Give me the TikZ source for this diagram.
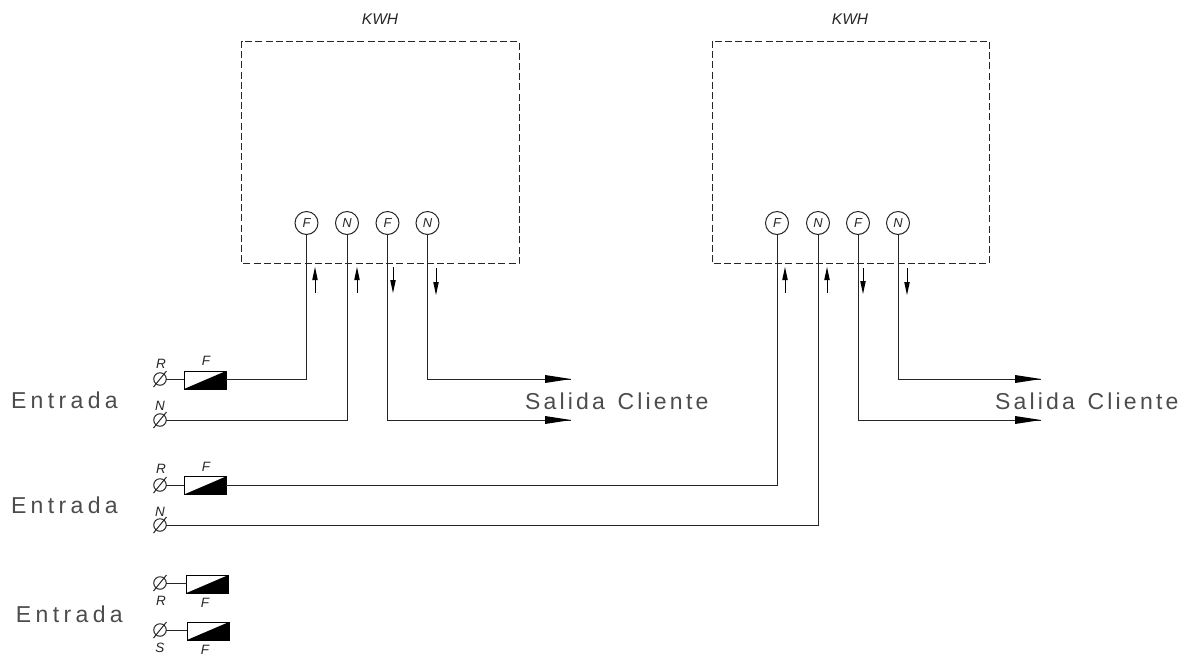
\documentclass[tikz,border=0pt]{standalone}
\usepackage{fontspec}
\setmainfont{Liberation Sans}
\newfontfamily\spacedA[LetterSpace=19]{Liberation Sans}
\newfontfamily\spacedB[LetterSpace=14,WordSpace=1.3]{Liberation Sans}
\usetikzlibrary{calc}
\tikzset{
  x=1pt,y=-1pt,
  every node/.style={inner sep=0pt,outer sep=0pt},
  wire/.style={draw=black!85,line width=1pt},
  dashbox/.style={draw=black!85,line width=1pt,dash pattern=on 7pt off 3.2pt},
  portc/.style={circle,draw=black!85,line width=1pt,fill=white,minimum size=23pt,font=\itshape\fontsize{13}{15}\selectfont,text=black!85},
  term/.style={circle,draw=black!85,line width=1pt,minimum size=12.5pt},
  fusebox/.style={rectangle,draw=black,line width=1pt,minimum width=42pt,minimum height=18pt,
    path picture={\fill[black] (path picture bounding box.south west)--(path picture bounding box.north east)--(path picture bounding box.south east)--cycle;}},
  smalllab/.style={font=\itshape\fontsize{13.5}{15}\selectfont,text=black!85},
  biglabA/.style={font=\spacedA\fontsize{23}{26}\selectfont,text=black!70},
  biglabB/.style={font=\spacedB\fontsize{23}{26}\selectfont,text=black!70},
  kwh/.style={font=\itshape\fontsize{15.5}{18}\selectfont,text=black!85},
  flow/.style={draw=black,line width=.9pt},
}
\newcommand{\uparr}[3]{\draw[flow] (#1,#3)--(#1,#2+6); \fill[black] (#1,#2)--(#1-2.8,#2+13)--(#1+2.8,#2+13)--cycle;}
\newcommand{\downarr}[3]{\draw[flow] (#1,#2)--(#1,#3-6); \fill[black] (#1,#3)--(#1-2.8,#3-13)--(#1+2.8,#3-13)--cycle;}
\newcommand{\wirehead}[2]{\fill[black] (#1,#2)--(#1-26,#2-4)--(#1-26,#2+4)--cycle;}
\begin{document}
\begin{tikzpicture}
\useasboundingbox (0,0) rectangle (1192,657);
\fill[white] (0,0) rectangle (1192,657);

% meter boxes
\node[kwh] (kwhA) at (380,19) {KWH};
\node[kwh] (kwhB) at (850,19) {KWH};
\draw[dashbox] (241.5,41) rectangle (519,263.5);
\draw[dashbox] (712,41) rectangle (989,263.5);

% left meter ports
\node[portc] (aF1) at (306.5,223) {F};
\node[portc] (aN1) at (347,223) {N};
\node[portc] (aF2) at (387.5,223) {F};
\node[portc] (aN2) at (427.5,223) {N};
% right meter ports
\node[portc] (bF1) at (777,223) {F};
\node[portc] (bN1) at (818,223) {N};
\node[portc] (bF2) at (858,223) {F};
\node[portc] (bN2) at (898,223) {N};

% terminals and fuses
\node[term] (t1) at (160,379) {};
\node[fusebox] (f1) at (205,380) {};
\node[term] (t2) at (160,420) {};
\node[term] (t3) at (160,485) {};
\node[fusebox] (f3) at (205,485.5) {};
\node[term] (t4) at (160,525) {};
\node[term] (t5) at (160,583) {};
\node[fusebox] (f5) at (207.5,584) {};
\node[term] (t6) at (160,630) {};
\node[fusebox] (f6) at (208,631) {};
\foreach \t in {t1,t2,t3,t4,t5,t6}
  \draw[black!85,line width=1pt] ($(\t)+(-6.5,8)$) -- ($(\t)+(6.5,-8)$);

% free ends
\coordinate (e1) at (571,379);
\coordinate (e2) at (571,420);
\coordinate (e3) at (1041,379);
\coordinate (e4) at (1041,420);

% wires
\draw[wire] (t1.east) -- (f1.west|-t1);
\draw[wire] (f1.east|-t1) -| (aF1.south);
\draw[wire] (t2.east) -| (aN1.south);
\draw[wire] (aF2.south) |- (e2);
\draw[wire] (aN2.south) |- (e1);
\draw[wire] (t3.east) -- (f3.west|-t3);
\draw[wire] (f3.east|-t3) -| (bF1.south);
\draw[wire] (t4.east) -| (bN1.south);
\draw[wire] (bF2.south) |- (e4);
\draw[wire] (bN2.south) |- (e3);
\draw[wire] (t5.east) -- (f5.west|-t5);
\draw[wire] (t6.east) -- (f6.west|-t6);

\wirehead{571}{379}\wirehead{571}{420}\wirehead{1041}{379}\wirehead{1041}{420}

% flow arrows
\uparr{315}{267}{293}\uparr{357}{267}{293}\downarr{393}{267}{293}\downarr{436}{268}{295}
\uparr{785}{267}{293}\uparr{827}{267}{293}\downarr{863}{268}{294}\downarr{907}{268}{295}

% small labels
\node[smalllab] (lr1) at (161,364) {R};
\node[smalllab] (lf1) at (206,361) {F};
\node[smalllab] (ln1) at (160,406) {N};
\node[smalllab] (lr3) at (161,469) {R};
\node[smalllab] (lf3) at (206,467) {F};
\node[smalllab] (ln3) at (160,512) {N};
\node[smalllab] (lr5) at (161,601) {R};
\node[smalllab] (lf5) at (205,603) {F};
\node[smalllab] (ls6) at (160,648) {S};
\node[smalllab] (lf6) at (205,650) {F};

% big labels
\node[biglabA,anchor=west] (en1) at (11,400) {Entrada};
\node[biglabA,anchor=west] (en2) at (11,505) {Entrada};
\node[biglabA,anchor=west] (en3) at (16,614) {Entrada};
\node[biglabB,anchor=west] (sa1) at (525,401) {Salida Cliente};
\node[biglabB,anchor=west] (sa2) at (995,401) {Salida Cliente};
\end{tikzpicture}
\end{document}
